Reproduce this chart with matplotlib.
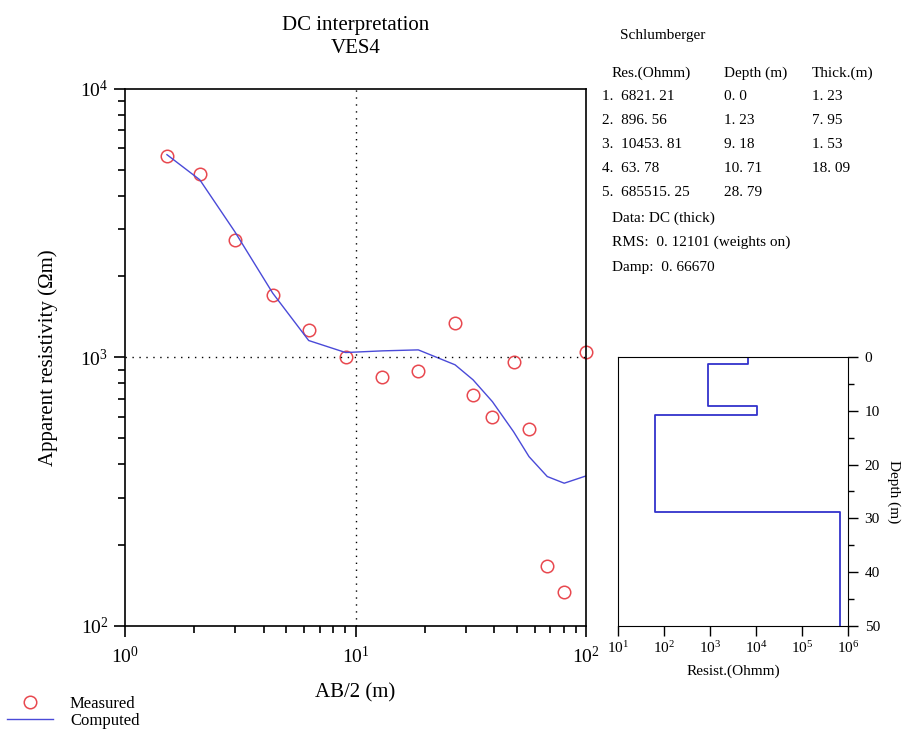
import numpy as np
import matplotlib.pyplot as plt
from matplotlib.ticker import LogLocator, NullFormatter, MultipleLocator

plt.rcParams['font.family'] = ['Liberation Serif', 'DejaVu Serif']

# measured apparent resistivity
ab2 = [1.52, 2.11, 2.99, 4.37, 6.26, 9.05, 13.05, 18.7, 27.0, 32.3, 39.2, 48.4, 56.5, 67.8, 80.3, 100.0]
rho_meas = [5630, 4820, 2740, 1710, 1266, 1003, 848, 893, 1341, 725, 599, 962, 543, 167, 134, 1050]
rho_calc = [5680, 4580, 2940, 1734, 1155, 1042, 1057, 1066, 938, 825, 684, 529, 427, 360, 340, 362]

# layered model
layer_res = [6821.21, 896.56, 10453.81, 63.78, 685515.25]
layer_top = [0.0, 1.23, 9.18, 10.71, 28.79]
layer_thick = [1.23, 7.95, 1.53, 18.09]


def spaced(v, nd=2):
    # numbers in the table are printed as "6821. 21"
    return f'{v:.{nd}f}'.replace('.', '. ')


fig = plt.figure(figsize=(9.06, 7.33), dpi=100)

# main sounding curve
ax = fig.add_axes([0.138, 0.146, 0.509, 0.733])
mk, = ax.plot(ab2, rho_meas, 'o', mfc='none', mec='#e8484f', ms=9, mew=1.1,
              clip_on=False, label='Measured')
ln, = ax.plot(ab2, rho_calc, '-', color='#4a4ad8', lw=1.0, label='Computed')
ax.set_xscale('log')
ax.set_yscale('log')
ax.set_xlim(1, 100)
ax.set_ylim(100, 10000)
ax.axvline(10, color='k', ls=(0, (1, 4)), lw=1)
ax.axhline(1000, color='k', ls=(0, (1, 4)), lw=1)
ax.set_xticks([1, 10, 100])
ax.set_yticks([100, 1000, 10000])
ax.xaxis.set_minor_locator(LogLocator(base=10, subs=np.arange(2, 10)))
ax.yaxis.set_minor_locator(LogLocator(base=10, subs=np.arange(2, 10)))
ax.xaxis.set_minor_formatter(NullFormatter())
ax.yaxis.set_minor_formatter(NullFormatter())
ax.tick_params(which='major', direction='out', length=8, width=1.2, labelsize=14, pad=4)
ax.tick_params(which='minor', direction='out', length=5, width=1.2)
ax.tick_params(axis='x', pad=6)
for s in ax.spines.values():
    s.set_linewidth(1.2)
ax.set_xlabel('AB/2 (m)', fontsize=15, labelpad=12)
ax.set_ylabel('Apparent resistivity (\u03a9m)', fontsize=15, labelpad=16)
ax.set_title('DC interpretation\nVES4', fontsize=15, pad=26, linespacing=1.25)

# model panel
ax2 = fig.add_axes([0.682, 0.146, 0.254, 0.367])
res_steps = []
dep_steps = []
bottoms = layer_top[1:] + [50]
for r, t, b in zip(layer_res, layer_top, bottoms):
    res_steps += [r, r]
    dep_steps += [t, b]
ax2.plot(res_steps, dep_steps, color='#3333cc', lw=1.3)
ax2.set_xscale('log')
ax2.set_xlim(10, 1e6)
ax2.set_ylim(50, 0)
ax2.set_xticks([1e1, 1e2, 1e3, 1e4, 1e5, 1e6])
ax2.xaxis.set_minor_locator(plt.NullLocator())
ax2.yaxis.tick_right()
ax2.yaxis.set_label_position('right')
ax2.yaxis.set_major_locator(MultipleLocator(10))
ax2.yaxis.set_minor_locator(MultipleLocator(5))
ax2.tick_params(which='major', direction='out', length=7, width=1, labelsize=11)
ax2.tick_params(which='minor', direction='out', length=4, width=1)
ax2.tick_params(axis='y', pad=5)
ax2.tick_params(axis='x', pad=3)
ax2.set_xlabel('Resist.(Ohmm)', fontsize=11, labelpad=6)
ax2.set_ylabel('Depth (m)', fontsize=11, rotation=270, va='center', ha='center')
ax2.yaxis.set_label_coords(1.2, 0.5)

# model table
fs = 11
fig.text(620 / 906, 1 - 36 / 733, 'Schlumberger', fontsize=fs, va='center')
fig.text(612 / 906, 1 - 73 / 733, 'Res.(Ohmm)', fontsize=fs, va='center')
fig.text(724 / 906, 1 - 73 / 733, 'Depth (m)', fontsize=fs, va='center')
fig.text(812 / 906, 1 - 73 / 733, 'Thick.(m)', fontsize=fs, va='center')
for i in range(len(layer_res)):
    y = 1 - (97 + 24 * i) / 733
    fig.text(602 / 906, y, f'{i + 1}.  ' + spaced(layer_res[i]), fontsize=fs, va='center')
    dtxt = '0. 0' if layer_top[i] == 0 else spaced(layer_top[i])
    fig.text(724 / 906, y, dtxt, fontsize=fs, va='center')
    if i < len(layer_thick):
        fig.text(812 / 906, y, spaced(layer_thick[i]), fontsize=fs, va='center')
fig.text(612 / 906, 1 - 218 / 733, 'Data: DC (thick)', fontsize=fs, va='center')
fig.text(612 / 906, 1 - 242 / 733, 'RMS:  0. 12101 (weights on)', fontsize=fs, va='center')
fig.text(612 / 906, 1 - 267 / 733, 'Damp:  0. 66670', fontsize=fs, va='center')

fig.legend(handles=[mk, ln], loc='lower left', bbox_to_anchor=(0.0, -0.003),
           frameon=False, fontsize=12, handlelength=2.8, handletextpad=1.0,
           labelspacing=0.05, borderaxespad=0.0)

fig.savefig('out.png', dpi=100)
